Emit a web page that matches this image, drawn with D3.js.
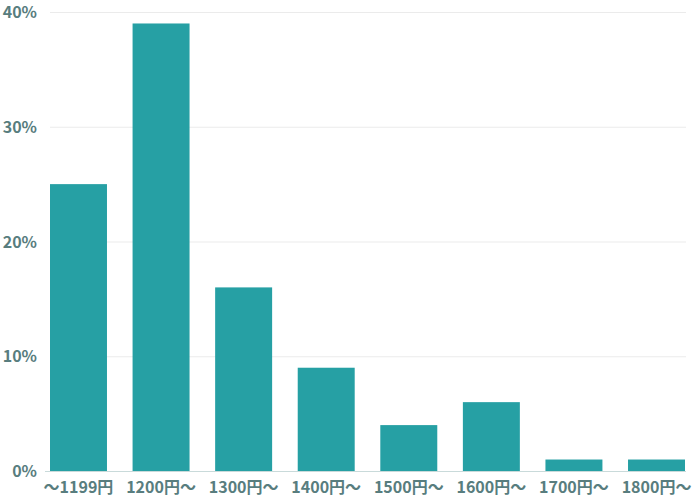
<!DOCTYPE html>
<html><head><meta charset="utf-8">
<script src="https://cdn.jsdelivr.net/npm/d3@7"></script>
<style>body{margin:0;background:#fff}text{font-family:"Noto Sans CJK JP","Noto Sans",sans-serif;font-weight:bold}</style>
</head><body><svg id="c" width="695" height="500"></svg>
<script>
const categories = ["〜1199円","1200円〜","1300円〜","1400円〜","1500円〜","1600円〜","1700円〜","1800円〜"];
const values = [25,39,16,9,4,6,1,1];
const yTicks = [0,10,20,30,40];
const tickLabels = ["0%","10%","20%","30%","40%"];

const svg = d3.select("#c");
const x = d3.scaleBand().domain(categories).range([50,685]).paddingInner(0.31).paddingOuter(0);
const y = d3.scaleLinear().domain([0,40]).range([471,12]);
const textColor = "#587d7e";

svg.append("g").selectAll("line").data(yTicks.slice(1)).join("line")
  .attr("x1",50).attr("x2",686).attr("y1",d=>y(d)+0.5).attr("y2",d=>y(d)+0.5)
  .attr("stroke","#ebebeb").attr("stroke-width",1);

svg.append("g").selectAll("rect").data(values).join("rect")
  .attr("x",(d,i)=>x(categories[i])).attr("width",x.bandwidth())
  .attr("y",d=>y(d)).attr("height",d=>y(0)-y(d)).attr("fill","#26a0a4");

svg.append("line").attr("x1",45).attr("x2",686).attr("y1",y(0)+0.5).attr("y2",y(0)+0.5)
  .attr("stroke","#c9dada").attr("stroke-width",1);

svg.append("g").selectAll("text").data(yTicks).join("text")
  .attr("x",37).attr("y",d=>y(d)+6).attr("text-anchor","end")
  .attr("font-size",16).attr("fill",textColor).text((d,i)=>tickLabels[i]);

svg.append("g").selectAll("text").data(categories).join("text")
  .attr("x",d=>x(d)+x.bandwidth()/2).attr("y",493).attr("text-anchor","middle")
  .attr("font-size",16).attr("fill",textColor).text(d=>d);
</script></body></html>
